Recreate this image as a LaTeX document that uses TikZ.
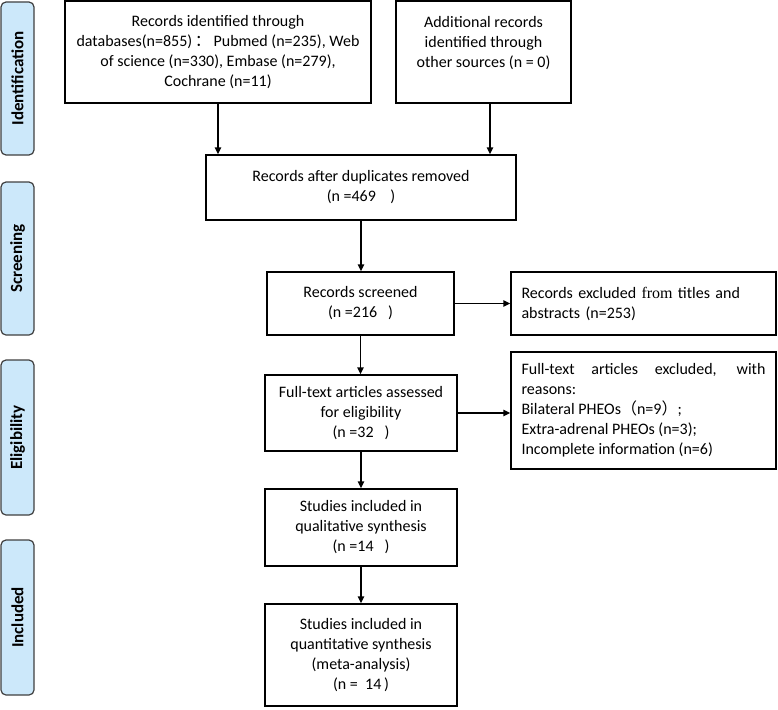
\documentclass[tikz,border=0pt]{standalone}
\usepackage{fontspec}
\setmainfont{Carlito}
\newfontfamily\cjk{Noto Sans CJK SC}
\newfontfamily\seriffrom{Liberation Serif}
\usetikzlibrary{arrows.meta}
\definecolor{phasefill}{HTML}{CCE8FA}
\definecolor{phaseline}{HTML}{404040}
\begin{document}
\begin{tikzpicture}[x=1pt,y=-1pt,
  box/.style={draw=black, line width=1.4pt, inner sep=0pt, align=center,
    font=\fontsize{16}{20}\selectfont},
  sidebox/.style={box, align=left},
  phase/.style={draw=phaseline, fill=phasefill, line width=1.2pt, rounded corners=5pt,
    rotate=90, minimum height=33pt, inner sep=0pt,
    font=\fontsize{17}{20}\selectfont\bfseries},
  arr/.style={draw=black, line width=1.4pt, -{Triangle[length=7pt,width=6.5pt]}}
]
\useasboundingbox (0,0) rectangle (778,709);

% phase labels
\node[phase, minimum width=153pt] (pid) at (17.5,78.5) {Identification};
\node[phase, minimum width=153pt] (psc) at (17.5,258.5) {Screening};
\node[phase, minimum width=155pt] (pel) at (17.5,437.5) {Eligibility};
\node[phase, minimum width=155pt] (pin) at (17.5,617.5) {Included};

% main boxes
\node[box, minimum width=306pt, minimum height=102pt] (b1) at (218,52)
  {Records identified through\\databases(n=855)\,{\cjk ：}\,Pubmed (n=235), Web\\of science (n=330), Embase (n=279),\\Cochrane (n=11)};
\node[box, minimum width=175pt, minimum height=102pt] (b2) at (483.5,52)
  {Additional records\\identified through\\other sources (n = 0)\\\mbox{}};
\node[box, minimum width=310pt, minimum height=65pt] (b3) at (361,187.5)
  {Records after duplicates removed\\(n =469\ \ \ \ )};
\node[box, minimum width=187pt, minimum height=63pt] (b4) at (360.5,303.5)
  {Records screened\\(n =216\ \ \ )};
\node[box, minimum width=192pt, minimum height=76pt] (b5) at (361,413)
  {Full-text articles assessed\\for eligibility\\(n =32\ \ \ )};
\node[box, minimum width=192pt, minimum height=77pt] (b6) at (361,527.5)
  {Studies included in\\qualitative synthesis\\(n =14\ \ \ )};
\node[box, minimum width=192pt, minimum height=102pt] (b7) at (361,655)
  {Studies included in\\quantitative synthesis\\(meta-analysis)\\(n =\ \ 14\,)};

% exclusion boxes
\node[sidebox, text width=244pt, minimum width=265pt, minimum height=63pt] (r1) at (643.5,303.5)
  {Records excluded {\seriffrom from} titles and\\abstracts (n=253)};
\node[box, align=justify, text width=244pt, minimum width=265pt, minimum height=117pt] (r2) at (643.5,410.5)
  {Full-text articles excluded, with\linebreak reasons:\\Bilateral PHEOs{\cjk （}n=9{\cjk ）};\\Extra-adrenal PHEOs (n=3);\\Incomplete information (n=6)};

% connectors
\coordinate (c2) at (490,0);
\draw[arr] (b1.south) -- (b1.south |- b3.north);
\draw[arr] (b2.south -| c2) -- (b3.north -| c2);
\draw[arr] (b3.south) -- (b3.south |- b4.north);
\draw[arr] (b4.east) -- (r1.west |- b4.east);
\draw[arr] (b4.south) -- (b4.south |- b5.north);
\draw[arr] (b5.east) -- (r2.west |- b5.east);
\draw[arr] (b5.south) -- (b5.south |- b6.north);
\draw[arr] (b6.south) -- (b6.south |- b7.north);
\end{tikzpicture}
\end{document}
